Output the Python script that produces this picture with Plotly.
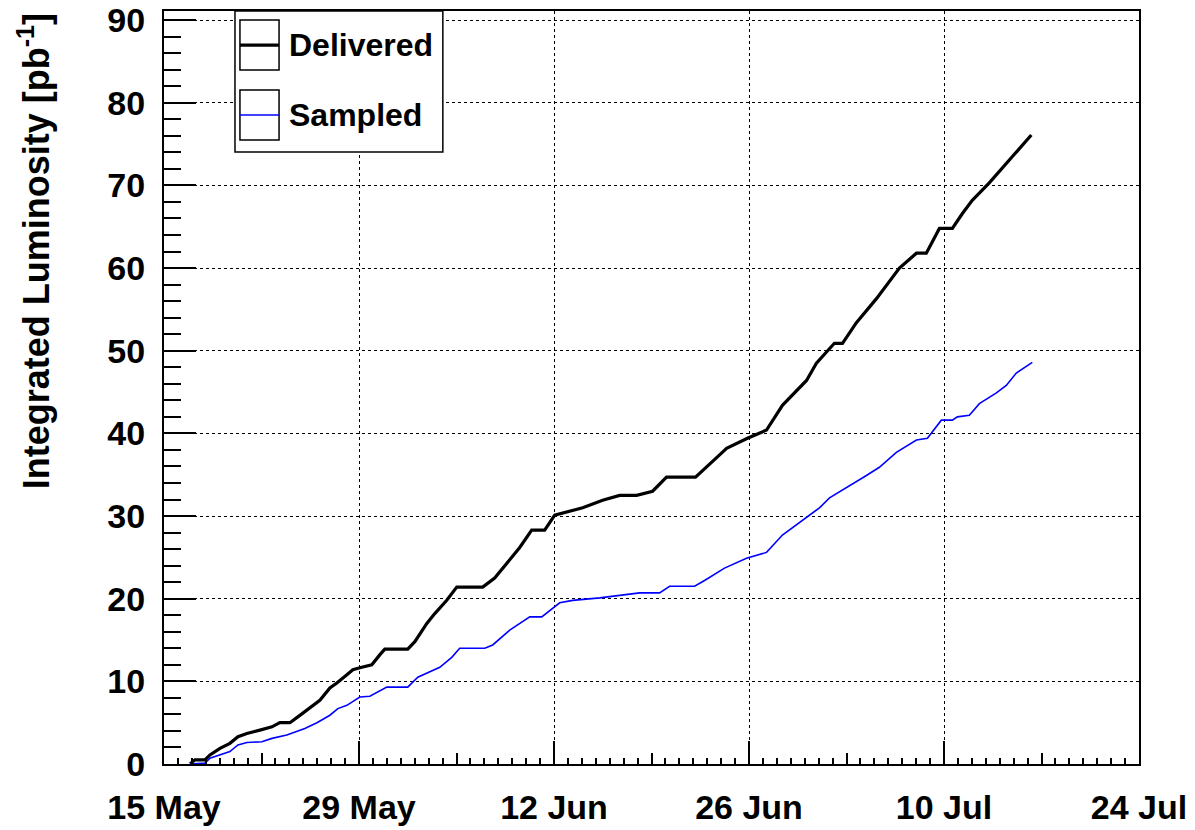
import pandas as pd
import plotly.graph_objects as go

# days since 15 May 00:00
start_date = pd.Timestamp("2009-05-15")

delivered_day = [1.87, 2.22, 2.94, 3.30, 4.02, 4.73, 5.31, 5.95, 6.89, 7.75, 8.32, 9.04,
                 9.61, 10.47, 11.19, 11.91, 12.41, 13.13, 13.56, 14.20, 14.92, 15.49,
                 15.85, 17.50, 18.01, 18.87, 19.44, 20.30, 21.02, 22.88, 23.74, 24.82,
                 25.54, 26.40, 27.33, 28.05, 30.06, 31.49, 32.71, 33.93, 35.08, 36.08,
                 38.16, 39.89, 40.39, 41.89, 43.26, 44.40, 46.13, 46.84, 48.13, 48.71,
                 49.71, 51.15, 52.80, 54.02, 54.73, 55.67, 56.60, 57.32, 58.03, 59.25,
                 60.47, 61.41, 62.27]
delivered_lumi = [0.0, 0.5, 0.5, 1.1, 1.9, 2.5, 3.3, 3.7, 4.1, 4.5, 5.0, 5.0,
                  5.7, 6.8, 7.7, 9.2, 9.8, 10.8, 11.4, 11.7, 12.0, 13.2,
                  13.9, 13.9, 14.8, 17.0, 18.2, 19.8, 21.4, 21.4, 22.5, 24.7,
                  26.2, 28.3, 28.3, 30.1, 31.0, 31.9, 32.5, 32.5, 33.0, 34.7,
                  34.7, 37.4, 38.2, 39.4, 40.4, 43.4, 46.4, 48.5, 50.9, 50.9,
                  53.4, 56.3, 60.0, 61.8, 61.8, 64.8, 64.8, 66.6, 68.2, 70.3,
                  72.7, 74.5, 76.1]

sampled_day = [1.87, 2.94, 3.30, 4.02, 4.73, 5.31, 5.95, 7.03, 7.75, 8.82, 9.54, 10.11,
               10.98, 11.91, 12.48, 13.13, 14.06, 14.78, 16.00, 17.50, 18.22, 19.80,
               20.66, 21.23, 23.03, 23.60, 24.82, 26.26, 27.12, 27.69, 28.41, 29.34,
               31.28, 34.15, 35.58, 36.30, 38.09, 38.81, 40.24, 41.82, 43.26, 44.40,
               46.13, 47.06, 47.78, 48.49, 49.00, 50.43, 51.36, 52.58, 54.02, 54.81,
               55.81, 56.60, 56.96, 57.82, 58.54, 59.76, 60.47, 61.19, 62.34]
sampled_lumi = [0.0, 0.1, 0.7, 1.1, 1.5, 2.3, 2.6, 2.7, 3.1, 3.5, 3.9, 4.3,
                5.0, 5.9, 6.7, 7.1, 8.1, 8.2, 9.3, 9.3, 10.5, 11.7,
                12.9, 14.0, 14.0, 14.4, 16.2, 17.8, 17.8, 18.6, 19.5, 19.8,
                20.1, 20.7, 20.7, 21.5, 21.5, 22.2, 23.7, 24.9, 25.6, 27.7,
                29.9, 31.0, 32.2, 32.9, 33.5, 34.9, 35.9, 37.7, 39.2, 39.4,
                41.6, 41.6, 42.0, 42.2, 43.6, 44.9, 45.8, 47.3, 48.6]

series_names = ["Delivered", "Sampled"]
series_colors = ["black", "#0000ff"]
y_title = "Integrated Luminosity [pb<sup>-1</sup>]"

FONT = "Liberation Sans"
DAY_MS = 86400000


def to_dates(days):
    return start_date + pd.to_timedelta(days, unit="D")


fig = go.Figure()

fig.add_trace(go.Scatter(
    x=to_dates(delivered_day), y=delivered_lumi,
    mode="lines", name=series_names[0],
    line=dict(color=series_colors[0], width=3.2),
))
fig.add_trace(go.Scatter(
    x=to_dates(sampled_day), y=sampled_lumi,
    mode="lines", name=series_names[1],
    line=dict(color=series_colors[1], width=1.6),
))

# invisible trace on the second x axis, only so the 7-day ticks are drawn
fig.add_trace(go.Scatter(
    x=[start_date], y=[0], xaxis="x2", mode="lines",
    line=dict(width=0), showlegend=False, hoverinfo="skip",
))

x_range = [start_date, start_date + pd.Timedelta(days=70)]
tick_font = dict(family=FONT, size=34, color="black", weight="bold")

# the page body has an 8px margin, so the figure is 8px smaller than the window
fig.update_layout(
    width=1187, height=822,
    margin=dict(l=156, r=56, t=3, b=66),
    paper_bgcolor="white", plot_bgcolor="white",
    showlegend=False,
    xaxis=dict(
        type="date", range=x_range, automargin=False, ticklabeloverflow="allow",
        tick0=start_date, dtick=14 * DAY_MS, tickformat="%d %b",
        ticks="inside", ticklen=23, tickwidth=2, tickcolor="black",
        tickfont=tick_font, ticklabelstandoff=12,
        showline=True, linecolor="black", linewidth=2, mirror=True,
        showgrid=True, gridcolor="black", gridwidth=1, griddash="dot",
        minor=dict(dtick=DAY_MS, tick0=start_date, ticks="inside", ticklen=6,
                   tickwidth=1.5, tickcolor="black", showgrid=False),
        zeroline=False,
    ),
    xaxis2=dict(
        type="date", range=x_range, overlaying="x", side="bottom", automargin=False,
        tick0=start_date, dtick=7 * DAY_MS,
        ticks="inside", ticklen=11, tickwidth=1.5, tickcolor="black",
        showticklabels=False, showgrid=False, showline=False, zeroline=False,
    ),
    yaxis=dict(
        range=[0, 91.1], tick0=0, dtick=10, automargin=False, ticklabeloverflow="allow",
        ticks="inside", ticklen=32, tickwidth=2, tickcolor="black",
        tickfont=tick_font, ticklabelstandoff=10,
        showline=True, linecolor="black", linewidth=2, mirror=True,
        showgrid=True, gridcolor="black", gridwidth=1, griddash="dot",
        minor=dict(dtick=2, ticks="inside", ticklen=17, tickwidth=1.5,
                   tickcolor="black", showgrid=False),
        zeroline=False,
    ),
)

# y title, top aligned like the original
fig.add_annotation(
    text=y_title, xref="paper", yref="paper", x=-0.133, y=1.0,
    xanchor="center", yanchor="top", textangle=-90, showarrow=False,
    font=dict(family=FONT, size=36, color="black", weight="bold"),
)

# legend box drawn by hand (box symbols with a line through them)
fig.add_shape(type="rect", xref="paper", yref="paper",
              x0=0.0728, x1=0.286, y0=0.8127, y1=1.0,
              line=dict(color="black", width=1.5), fillcolor="white", layer="above")
entry_rows = [(0.988, 0.9216), (0.895, 0.8287)]
line_widths = [3.2, 1.6]
for name, color, lw, (top, bot) in zip(series_names, series_colors, line_widths, entry_rows):
    fig.add_shape(type="rect", xref="paper", yref="paper",
                  x0=0.0779, x1=0.118, y0=bot, y1=top,
                  line=dict(color="black", width=1.5), layer="above")
    mid = (top + bot) / 2
    fig.add_shape(type="line", xref="paper", yref="paper",
                  x0=0.0779, x1=0.118, y0=mid, y1=mid,
                  line=dict(color=color, width=lw), layer="above")
    fig.add_annotation(
        text=name, xref="paper", yref="paper", x=0.126, y=mid,
        xanchor="left", yanchor="middle", showarrow=False,
        font=dict(family=FONT, size=32, color="black", weight="bold"),
    )

fig.write_html("out.html")
